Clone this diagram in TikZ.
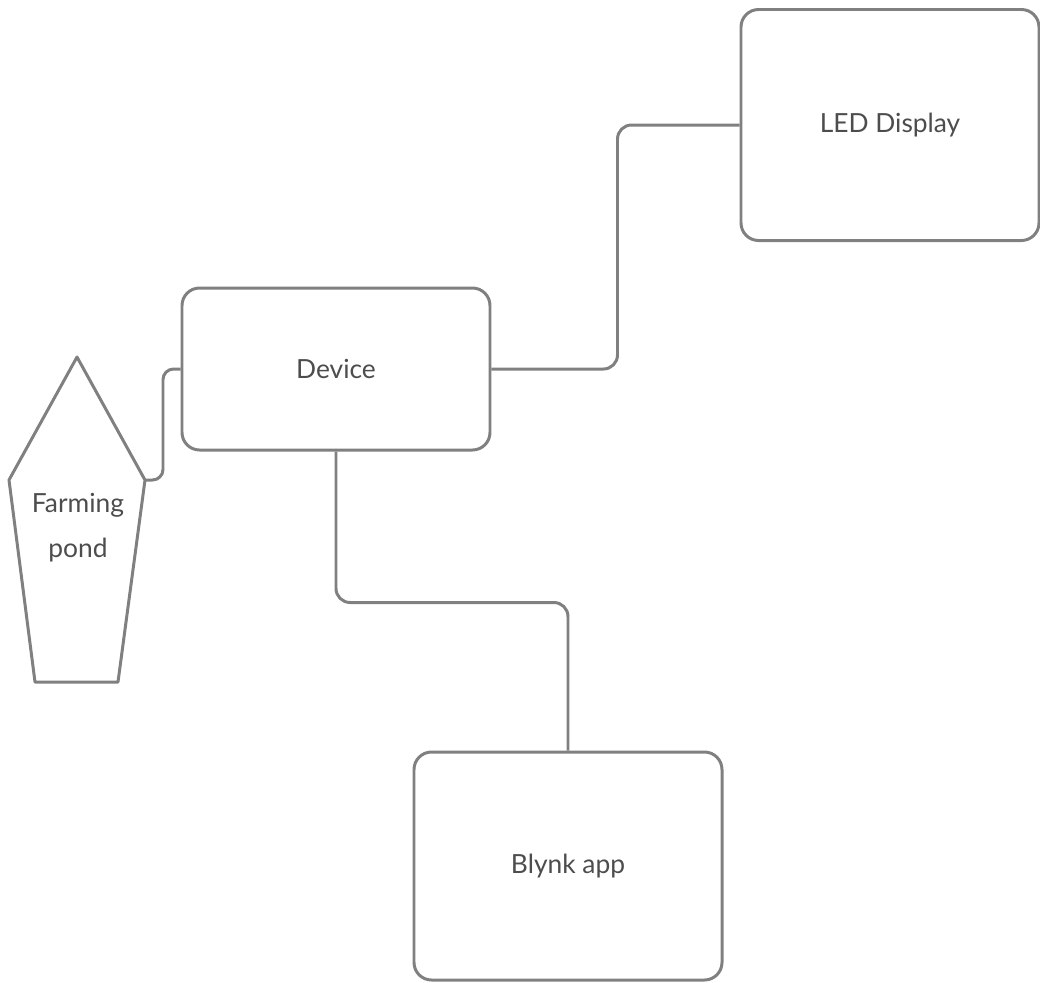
\documentclass[tikz,border=0pt]{standalone}
\usepackage{fontspec}
\setmainfont{Lato}
\usetikzlibrary{positioning,calc}
\definecolor{pondline}{HTML}{808080}
\definecolor{pondink}{HTML}{4D4D4D}
\tikzset{
  bx/.style={rounded corners=10pt, draw=pondline, line width=1.7pt, fill=white, align=center, text=pondink, font=\fontsize{15}{25.6}\selectfont},
  blk/.style={bx, minimum width=6.16cm},
  wire/.style={draw=pondline, line width=1.7pt, rounded corners=8pt},
}
\begin{document}
\begin{tikzpicture}[x=0.2mm, y=-0.2mm]
    \useasboundingbox (0,0) rectangle (1040,982);
    % farming pond
    \coordinate (pt) at (77,357);
    \coordinate (pl) at (9,480);
    \coordinate (pr) at (145,480);
    \coordinate (pbl) at (35,682);
    \coordinate (pbr) at (118,682);
    \draw[draw=pondline, line width=1.7pt, line join=round] (pt) -- (pr) -- (pbr) -- (pbl) -- (pl) -- cycle;
    \node[align=center, text=pondink, font=\fontsize{15}{25.6}\selectfont] (pond) at (78,528) {Farming\\pond};
    % boxes
    \node[blk, minimum height=3.24cm] (dev) at (336,369) {Device};
    \node[bx, minimum width=5.96cm, minimum height=4.62cm] (led) at (890,125) {LED Display};
    \node[blk, minimum height=4.56cm] (blynk) at (568,866) {Blynk app};
    % links
    \draw[wire, rounded corners=6pt] (pr) -- ++(18,0) |- (dev.west);
    \draw[wire] (dev.east) -- ++(126,0) |- (led.west);
    \draw[wire] (dev.south) -- ++(0,151) -| (blynk.north);
\end{tikzpicture}
\end{document}
